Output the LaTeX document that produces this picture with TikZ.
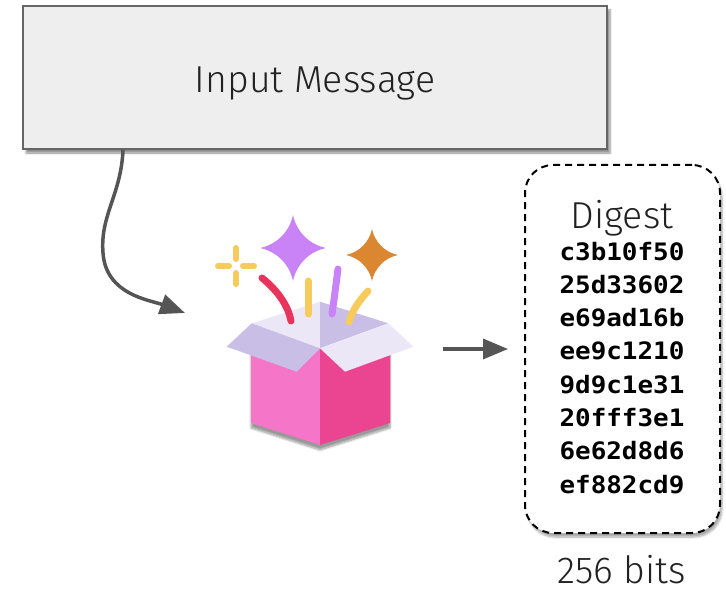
\documentclass[tikz,border=0pt]{standalone}
\usepackage{fontspec}
\setmainfont{Fira Sans Light}
\newfontfamily\hexfont{DejaVu Sans Mono}[FakeStretch=1.08]
\usetikzlibrary{arrows.meta,shadows.blur}

\definecolor{boxfill}{HTML}{EEEEEE}
\definecolor{boxline}{HTML}{666666}
\definecolor{arrowgray}{HTML}{555555}
\definecolor{textgray}{HTML}{222222}
\definecolor{starpurple}{HTML}{C983F7}
\definecolor{starorange}{HTML}{DB8630}
\definecolor{sparkyellow}{HTML}{F6CB5C}
\definecolor{streakred}{HTML}{E8335D}
\definecolor{pinklight}{HTML}{F575C9}
\definecolor{pinkdark}{HTML}{EB4592}
\definecolor{lavdark}{HTML}{C9BEE6}
\definecolor{lavlight}{HTML}{ECE7F6}

\tikzset{
  pics/fourstar/.style={code={
    \fill[#1] (0,-1) .. controls (0.1,-0.5) and (0.5,-0.1) .. (1,0)
      .. controls (0.5,0.1) and (0.1,0.5) .. (0,1)
      .. controls (-0.1,0.5) and (-0.5,0.1) .. (-1,0)
      .. controls (-0.5,-0.1) and (-0.1,-0.5) .. (0,-1) -- cycle;
  }},
  msgbox/.style={draw=boxline, fill=boxfill, line width=2pt,
    minimum width=584pt, minimum height=143pt, inner sep=0pt,
    blur shadow={shadow xshift=3pt, shadow yshift=-4pt, shadow blur steps=6, shadow opacity=45}},
  digestbox/.style={draw=black, fill=white, line width=2pt, dash pattern=on 7pt off 5pt,
    rounded corners=28pt, minimum width=195pt, minimum height=368pt, inner sep=0pt,
    blur shadow={shadow xshift=2pt, shadow yshift=-4pt, shadow blur steps=6, shadow opacity=35}},
  bigtext/.style={text=textgray, font=\fontsize{37.5}{45}\selectfont, inner sep=0pt, anchor=base},
  midtext/.style={text=textgray, font=\fontsize{37.5}{45}\selectfont, inner sep=0pt, anchor=base},
  hextext/.style={text=black, font=\hexfont\bfseries\fontsize{24}{28}\selectfont, inner sep=0pt, anchor=base},
  flow/.style={draw=arrowgray, line width=3.5pt, -{Triangle[length=25pt,width=20pt]}},
  streak/.style={line width=7pt, line cap=round},
  face/.style={line join=round}
}

\begin{document}
\begin{tikzpicture}[x=1pt,y=-1pt]
\useasboundingbox (0,0) rectangle (726,591);

% input message box
\node[msgbox] (msg) at (315,77.5) {};
\node[bigtext] (msglabel) at (315,92.7) {Input Message};

% digest box with its hex lines
\node[digestbox] (digest) at (622.5,349) {};
\node[midtext] (digesttitle) at (622,228) {Digest};
\foreach \h [count=\i from 0] in {c3b10f50,25d33602,e69ad16b,ee9c1210,9d9c1e31,20fff3e1,6e62d8d6,ef882cd9}
  \node[hextext] (hex\i) at (622,{260+33.3*\i}) {\h};
\node[midtext, text depth=0pt] (bits) at (621.5,583) {256 bits};

% hash function icon: an open gift box with sparks
\coordinate (iconin) at (185,313);
\coordinate (iconout) at (443,349);

% shadow under the box body
\fill[gray, opacity=0.25, blur shadow={shadow xshift=0pt, shadow yshift=-5pt, shadow blur steps=8, shadow opacity=40}]
  (251,345) -- (320,348) -- (390,345) -- (390,423) -- (320,445) -- (251,423) -- cycle;
% inner back walls
\fill[lavlight, face] (251.7,323.3) -- (320,301.7) -- (320,348.3) -- cycle;
\fill[lavdark, face] (320,301.7) -- (388.3,323.3) -- (320,348.3) -- cycle;
% sparks rising out of the box
\draw[streak, streakred] (262,278) .. controls (277,290) and (288,305) .. (291,321);
\draw[streak, sparkyellow] (308,281) -- (308,314);
\draw[streak, starpurple] (338,269) .. controls (336,285) and (334,300) .. (332,314);
\draw[streak, sparkyellow] (368,291) .. controls (360,300) and (352,310) .. (349,322);
% body faces
\fill[pinklight, face] (251,340) -- (320,348.3) -- (320,445) -- (251,423) -- cycle;
\fill[pinkdark, face] (320,348.3) -- (390,340) -- (390,423) -- (320,445) -- cycle;
% flaps
\fill[lavdark, face] (226.7,346.7) -- (251.7,323.3) -- (320,348.3) -- (296.7,371.7) -- cycle;
\fill[lavlight, face] (320,348.3) -- (388.3,323.3) -- (413.3,346.7) -- (345,371.7) -- cycle;
% stars
\pic[scale=33] at (293,248) {fourstar=starpurple};
\pic[scale=26] at (372,255) {fourstar=starorange};
% small twinkle
\draw[sparkyellow, line width=6pt, line cap=round]
  (236,248) -- (236,259) (236,273) -- (236,284)
  (218,266) -- (229,266) (243,266) -- (254,266);

% connectors
\draw[flow] (msg.south -| 123,0) .. controls (121,195) and (100,215) .. (103,253)
  .. controls (106,295) and (150,300) .. (iconin);
\draw[flow] (iconout) -- ([xshift=-16pt]digest.west);
\end{tikzpicture}
\end{document}
